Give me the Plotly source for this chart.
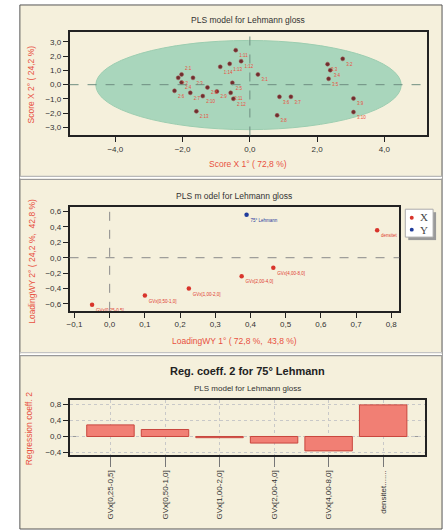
import plotly.graph_objects as go

W, H = 448, 531


def px(x):
    return x / W


def py(y):
    return 1 - y / H


# ---------------- data ----------------
score_x = [-0.42, -0.26, -0.60, -0.88, -2.03, -2.13, -1.69, -2.03, -0.52, -2.24,
           -1.77, -1.26, -0.98, -1.40, -0.57, -0.49, -1.59, 0.24, 2.76, 2.31,
           2.39, 2.34, 0.88, 1.22, 0.81, 3.08, 3.08]
score_y = [2.42, 1.65, 1.46, 1.25, 0.72, 0.48, 0.48, 0.16, 0.13, -0.43,
           -0.57, -0.19, -0.47, -0.80, -0.57, -0.99, -1.87, 0.72, 1.81, 1.44,
           1.02, 0.41, -0.85, -0.85, -2.15, -0.96, -1.92]
score_labels = ["1:11", "1:12", "1:13", "1:14", "2:1", "2:2", "2:3", "2:4", "2:5", "2:6",
                "2:7", "2:8", "2:9", "2:10", "2:11", "2:12", "2:13", "3:1", "3:2", "3:3",
                "3:4", "3:5", "3:6", "3:7", "3:8", "3:9", "3:10"]

load_x_X = [-0.05, 0.10, 0.225, 0.375, 0.465, 0.76]
load_y_X = [-0.61, -0.49, -0.40, -0.24, -0.13, 0.357]
load_lab_X = ["GVx[0,25-0,5]", "GVx[0,50-1,0]", "GVx[1,00-2,0]", "GVx[2,00-4,0]",
              "GVx[4,00-8,0]", "densitet"]
load_x_Y = [0.389]
load_y_Y = [0.557]
load_lab_Y = ["75° Lehmann"]

coef_cats = ["GVx[0,25-0,5]", "GVx[0,50-1,0]", "GVx[1,00-2,0]", "GVx[2,00-4,0]",
             "GVx[4,00-8,0]", "densitet......."]
coef_vals = [0.29, 0.175, -0.03, -0.165, -0.36, 0.79]

# ---------------- styling ----------------
BEIGE = "#F5F0DC"
RED_TXT = "#E8503F"
FONT = "Liberation Sans"
TICKF = dict(family=FONT, size=8, color="#333")

fig = go.Figure()

# Panel 1: scores
text_pos = ["bottom right"] * len(score_x)
text_pos[4] = "top right"
fig.add_trace(go.Scatter(
    x=score_x, y=score_y, mode="markers+text", text=score_labels,
    textposition=text_pos, textfont=dict(family=FONT, size=4.5, color="#E8503F"),
    marker=dict(size=4, color="#6E2E2E", line=dict(width=0.5, color="#A05050")),
    xaxis="x", yaxis="y", showlegend=False, cliponaxis=False))

# Panel 2: loadings
fig.add_trace(go.Scatter(
    x=load_x_X, y=load_y_X, mode="markers+text", text=load_lab_X,
    textposition="bottom right", textfont=dict(family=FONT, size=4.5, color="#E03A30"),
    marker=dict(size=4.5, color="#D8342B"), xaxis="x2", yaxis="y2", showlegend=False,
    cliponaxis=False))
fig.add_trace(go.Scatter(
    x=load_x_Y, y=load_y_Y, mode="markers+text", text=load_lab_Y,
    textposition="bottom right", textfont=dict(family=FONT, size=4.5, color="#1F3C9C"),
    marker=dict(size=4.5, color="#1F3C9C"), xaxis="x2", yaxis="y2", showlegend=False,
    cliponaxis=False))

# Panel 3: regression coefficients
fig.add_trace(go.Bar(
    x=coef_cats, y=coef_vals, width=0.87,
    marker=dict(color="#F17F74", line=dict(color="#C9463E", width=1)),
    xaxis="x3", yaxis="y3", showlegend=False))

axis_common = dict(showline=True, mirror=True, linecolor="#222", linewidth=1.5,
                   ticks="outside", tickcolor="#222", tickfont=TICKF, zeroline=False,
                   showgrid=False, tickformat=".1f", ticklen=5, tickmode="linear")


def frange(a, b, step):
    n = int(round((b - a) / step))
    return [round(a + i * step, 4) for i in range(n + 1)]


def minor_axis(overlay, anchor, rng, vals, side):
    return dict(overlaying=overlay, anchor=anchor, range=rng, side=side,
                tickmode="array", tickvals=vals, showticklabels=False,
                ticks="outside", ticklen=3, tickcolor="#222", showline=False,
                showgrid=False, zeroline=False)


R1x, R1y = [-5.36, 5.27], [-3.56, 3.7]
R2x, R2y = [-0.114, 0.823], [-0.69, 0.656]
R3y = [-0.47, 0.9]

fig.update_layout(
    width=W, height=H, margin=dict(l=0, r=0, t=0, b=0),
    paper_bgcolor="white", plot_bgcolor="white", separators=", ",
    showlegend=False,
    xaxis=dict(domain=[px(67), px(427)], range=R1x, anchor="y",
               tick0=0, dtick=2, **axis_common),
    yaxis=dict(domain=[py(136), py(32)], range=R1y, anchor="x",
               tick0=0, dtick=1, **axis_common),
    xaxis2=dict(domain=[px(67), px(399)], range=R2x, anchor="y2",
                tick0=0, dtick=0.1, **axis_common),
    yaxis2=dict(domain=[py(312), py(208)], range=R2y, anchor="x2",
                tick0=0, dtick=0.2, **axis_common),
    xaxis3=dict(domain=[px(67), px(425)], range=[-0.75, 5.77], anchor="y3",
                type="category", showline=True, mirror=True, linecolor="#222",
                linewidth=1.5, ticks="outside", ticklen=10, tickcolor="#777",
                tickangle=-90, tickfont=dict(family=FONT, size=8, color="#333"),
                showgrid=True, gridcolor="#C8C8C8", griddash="dot", zeroline=False),
    yaxis3=dict(domain=[py(457), py(402)], range=R3y, anchor="x3",
                tickmode="linear", tick0=0, dtick=0.4,
                showline=True, mirror=True, linecolor="#222", linewidth=1.5,
                ticks="outside", tickcolor="#222", tickfont=TICKF, ticklen=5,
                tickformat=".1f", zeroline=False,
                showgrid=True, gridcolor="#C8C8C8", griddash="dot"),
    # minor tick overlays
    xaxis4=minor_axis("x", "y", R1x, frange(-5.25, 5.25, 0.25), "bottom"),
    yaxis4=minor_axis("y", "x", R1y, frange(-3.4, 3.6, 0.2), "left"),
    xaxis5=minor_axis("x2", "y2", R2x, frange(-0.1, 0.82, 0.02), "bottom"),
    yaxis5=minor_axis("y2", "x2", R2y, frange(-0.65, 0.65, 0.05), "left"),
    yaxis6=minor_axis("y3", "x3", R3y, frange(-0.4, 0.9, 0.1), "left"),
)

shapes = []
# panel background and frames
shapes.append(dict(type="rect", xref="paper", yref="paper", x0=px(17), x1=px(442),
                   y0=py(531), y1=py(5), fillcolor=BEIGE,
                   line=dict(color="#555", width=1), layer="below"))
for yy, col in [(177, "#B8B8B8"), (180, "#9A9A9A"), (354, "#C4C4C4"), (357, "#9A9A9A")]:
    shapes.append(dict(type="line", xref="paper", yref="paper", x0=px(17), x1=px(442),
                       y0=py(yy), y1=py(yy), line=dict(color=col, width=1.2), layer="below"))
for yy in [178.5, 355.5]:
    shapes.append(dict(type="line", xref="paper", yref="paper", x0=px(17), x1=px(442),
                       y0=py(yy), y1=py(yy), line=dict(color="#FFFFFF", width=1.5), layer="below"))

# ellipse (panel 1)
shapes.append(dict(type="circle", xref="x", yref="y", x0=-4.58, x1=4.5, y0=-3.15, y1=3.1,
                   fillcolor="#A9D6BC", line=dict(color="#9CCDB0", width=1), layer="below"))
# dashed zero lines
for xr, yr in [("x", "y"), ("x2", "y2")]:
    shapes.append(dict(type="line", xref=xr, yref=yr + " domain", x0=0, x1=0, y0=0, y1=1,
                       line=dict(color="#6E8E80" if xr == "x" else "#8A8A8A",
                                 width=1, dash="dash")))
    shapes.append(dict(type="line", xref=xr + " domain", yref=yr, x0=0, x1=1, y0=0, y1=0,
                       line=dict(color="#6E8E80" if xr == "x" else "#8A8A8A",
                                 width=1, dash="dash")))
shapes.append(dict(type="line", xref="x3 domain", yref="y3", x0=0, x1=1, y0=0, y1=0,
                   line=dict(color="#999", width=1, dash="dash"), layer="below"))

# manual legend (panel 2)
shapes.append(dict(type="rect", xref="paper", yref="paper", x0=px(408), x1=px(436),
                   y0=py(241), y1=py(213), fillcolor="#9A9A9A", line=dict(width=0)))
shapes.append(dict(type="rect", xref="paper", yref="paper", x0=px(405), x1=px(433),
                   y0=py(238), y1=py(210), fillcolor="white",
                   line=dict(color="#AAA", width=1)))
for cy, col in [(218.5, "#D8342B"), (230.5, "#1F3C9C")]:
    shapes.append(dict(type="circle", xref="paper", yref="paper", x0=px(409.5), x1=px(413.5),
                       y0=py(cy + 2), y1=py(cy - 2), fillcolor=col, line=dict(width=0)))
fig.update_layout(shapes=shapes)

ann = []


def A(text, x, y, size=9, color="#333", angle=0, bold=False, family=FONT):
    ann.append(dict(text=("<b>%s</b>" % text) if bold else text, x=px(x), y=py(y),
                    xref="paper", yref="paper", showarrow=False, textangle=angle,
                    font=dict(family=family, size=size, color=color),
                    xanchor="center", yanchor="middle"))


A("PLS model for Lehmann gloss", 247, 20, size=8.5)
A("Score X 1° ( 72,8 %)", 247, 165, size=8.5, color=RED_TXT)
A("Score X 2° ( 24,2 %)", 28, 85, size=8.5, color=RED_TXT, angle=-90)

A("PLS m odel for Lehmann gloss", 233, 197, size=8.5)
A("LoadingWY 1° ( 72,8 %,  43,8 %)", 233, 342, size=8.5, color=RED_TXT)
A("LoadingWY 2° ( 24,2 %,  42,8 %)", 29, 262, size=8.5, color=RED_TXT, angle=-90)
A("X", 424, 218, size=11, color="#444", family="Liberation Serif")
A("Y", 424, 230.5, size=11, color="#444", family="Liberation Serif")

A("Reg. coeff. 2 for 75° Lehmann", 246, 372, size=11, color="#222", bold=True)
A("PLS model for Lehmann gloss", 246, 390, size=8)
A("Regression coeff. 2", 27, 430, size=8.5, color=RED_TXT, angle=-90)
fig.update_layout(annotations=ann)

fig.write_html("out.html")
